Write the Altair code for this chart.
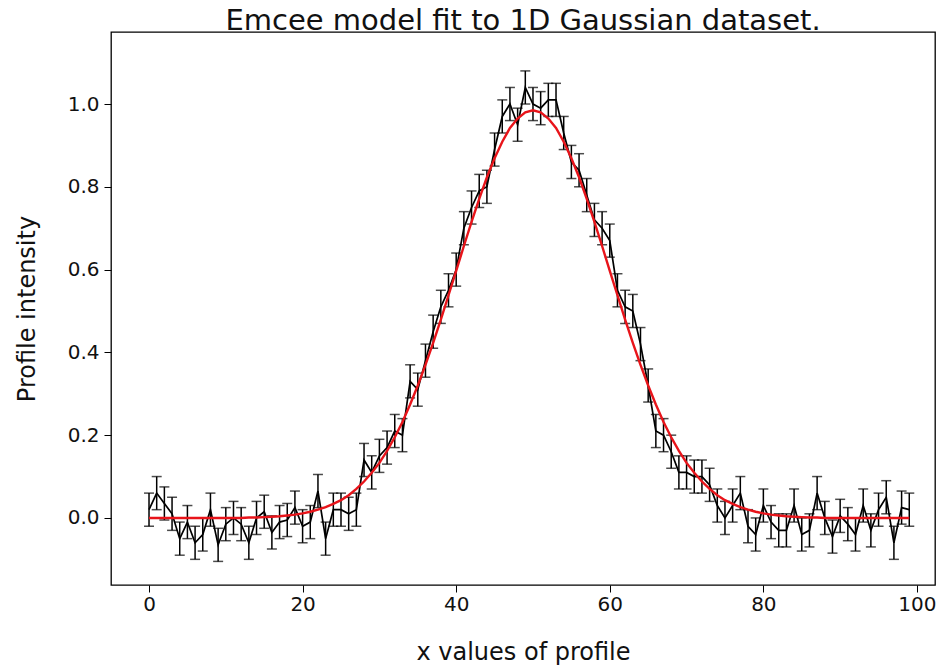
import altair as alt
import pandas as pd

x_vals = list(range(100))
y_obs = [0.02, 0.06, 0.035, 0.01, -0.05, -0.01, -0.06, -0.04, 0.02, -0.065,
         -0.015, 0.0, -0.015, -0.06, 0.0, 0.015, -0.035, -0.01, -0.005, 0.025,
         -0.02, -0.01, 0.065, -0.05, 0.02, 0.02, 0.01, 0.02, 0.14, 0.11,
         0.15, 0.17, 0.21, 0.20, 0.33, 0.31, 0.38, 0.45, 0.51, 0.55,
         0.60, 0.70, 0.75, 0.79, 0.80, 0.89, 0.97, 1.00, 0.95, 1.04,
         1.00, 0.99, 1.01, 1.01, 0.93, 0.86, 0.84, 0.78, 0.72, 0.70,
         0.67, 0.55, 0.51, 0.50, 0.42, 0.32, 0.21, 0.20, 0.16, 0.11,
         0.11, 0.10, 0.10, 0.08, 0.03, 0.0, 0.03, 0.06, -0.02, -0.04,
         0.03, -0.01, -0.03, -0.03, 0.03, -0.04, -0.03, 0.06, 0.0, -0.045,
         0.005, -0.015, -0.04, 0.03, -0.03, 0.02, 0.05, -0.06, 0.025, 0.02]
y_err = [0.04] * 100
y_model = [0.0, 0.0, 0.0, 0.0, 0.0, 0.0, 0.0, 0.0, 0.0, 0.0,
           0.0, 0.0, 0.0, 0.001, 0.001, 0.002, 0.003, 0.004, 0.006, 0.008,
           0.011, 0.015, 0.020, 0.026, 0.034, 0.043, 0.055, 0.070, 0.088, 0.109,
           0.133, 0.162, 0.195, 0.232, 0.274, 0.320, 0.370, 0.423, 0.479, 0.538,
           0.597, 0.657, 0.715, 0.771, 0.823, 0.869, 0.909, 0.942, 0.965, 0.980,
           0.985, 0.980, 0.965, 0.942, 0.909, 0.869, 0.823, 0.771, 0.715, 0.657,
           0.597, 0.538, 0.479, 0.423, 0.370, 0.320, 0.274, 0.232, 0.195, 0.162,
           0.133, 0.109, 0.088, 0.070, 0.055, 0.043, 0.034, 0.026, 0.020, 0.015,
           0.011, 0.008, 0.006, 0.004, 0.003, 0.002, 0.001, 0.001, 0.0, 0.0,
           0.0, 0.0, 0.0, 0.0, 0.0, 0.0, 0.0, 0.0, 0.0, 0.0]
x_ticks = [0, 20, 40, 60, 80, 100]
y_ticks = [0.0, 0.2, 0.4, 0.6, 0.8, 1.0]

df = pd.DataFrame({"x": x_vals, "y": y_obs, "err": y_err, "model": y_model})
df["lo"] = df["y"] - df["err"]
df["hi"] = df["y"] + df["err"]

FONT = "DejaVu Sans"
xs = alt.Scale(domain=[-4.95, 102.35], nice=False, zero=False)
ys = alt.Scale(domain=[-0.162, 1.174], nice=False, zero=False)

xaxis = alt.Axis(values=x_ticks, title="x values of profile", grid=False,
                 tickColor="black", tickSize=7, domain=False,
                 labelFont=FONT, labelFontSize=20, labelColor="#111",
                 labelPadding=2, titleFont=FONT, titleFontSize=24,
                 titleFontWeight="normal", titleColor="#111", titlePadding=26)
yaxis = alt.Axis(values=y_ticks, format=".1f", title="Profile intensity", grid=False,
                 tickColor="black", tickSize=7, domain=False,
                 labelFont=FONT, labelFontSize=20, labelColor="#111",
                 labelPadding=5, titleFont=FONT, titleFontSize=24,
                 titleFontWeight="normal", titleColor="#111", titlePadding=28)

base = alt.Chart(df)

bars = base.mark_rule(color="black", strokeWidth=1.5).encode(
    x=alt.X("x:Q", scale=xs, axis=xaxis),
    y=alt.Y("lo:Q", scale=ys, axis=yaxis),
    y2="hi:Q",
)
cap_lo = base.mark_tick(color="black", orient="horizontal", size=10, thickness=1.5).encode(
    x=alt.X("x:Q", scale=xs), y=alt.Y("lo:Q", scale=ys)
)
cap_hi = base.mark_tick(color="black", orient="horizontal", size=10, thickness=1.5).encode(
    x=alt.X("x:Q", scale=xs), y=alt.Y("hi:Q", scale=ys)
)
line = base.mark_line(color="black", strokeWidth=1.7).encode(
    x=alt.X("x:Q", scale=xs), y=alt.Y("y:Q", scale=ys)
)
model = base.mark_line(color="#e8141a", strokeWidth=2.4).encode(
    x=alt.X("x:Q", scale=xs), y=alt.Y("model:Q", scale=ys)
)

chart = alt.layer(bars, cap_lo, cap_hi, line, model).properties(
    width=824, height=553,
    background="white",
    title=alt.TitleParams("Emcee model fit to 1D Gaussian dataset.", font=FONT,
                          fontSize=29, fontWeight="normal", color="#111",
                          offset=-4),
    autosize=alt.AutoSizeParams(type="none"),
    padding={"left": 111, "top": 32, "right": 10, "bottom": 82},
).configure_view(stroke="black", strokeWidth=1.3)

chart.save("out.html", embed_options={"renderer": "svg", "actions": False})
